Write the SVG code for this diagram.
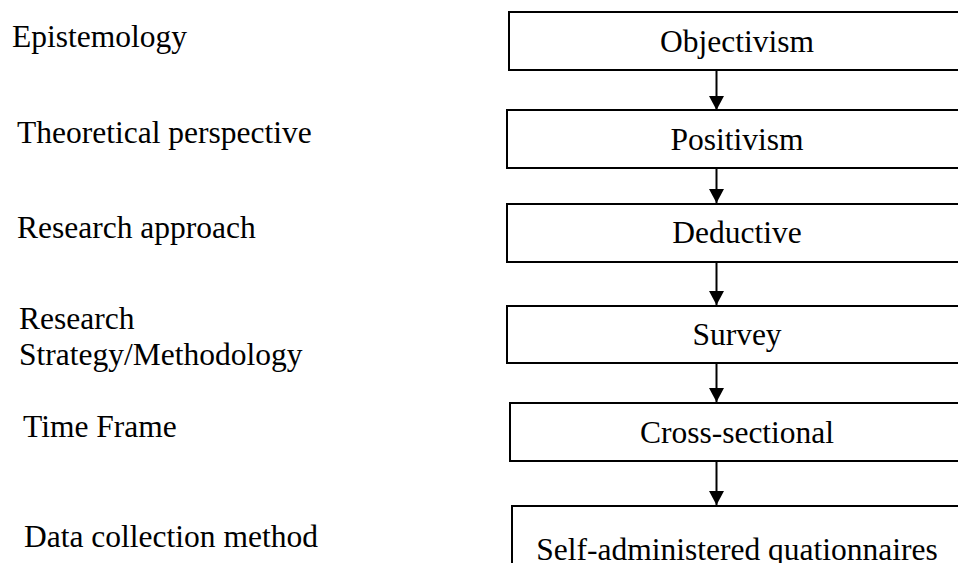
<svg xmlns="http://www.w3.org/2000/svg" width="958" height="563" viewBox="0 0 958 563">
  <style>
    .lbl { font-family: "Liberation Serif", "Times New Roman", serif; font-size: 31.5px; fill: #000; }
    .box rect { fill: #fff; stroke: #000; stroke-width: 2; }
    .box text { text-anchor: middle; }
    .conn line { stroke: #000; stroke-width: 2; }
  </style>
  <defs>
    <marker id="arrow" markerUnits="userSpaceOnUse" markerWidth="15" markerHeight="16" refX="14" refY="7.5" orient="auto">
      <path d="M0,0 L14,7.5 L0,15 Z" fill="#000"/>
    </marker>
  </defs>

  <!-- level labels -->
  <g id="labels">
    <text class="lbl" x="12" y="47">Epistemology</text>
    <text class="lbl" x="17" y="143">Theoretical perspective</text>
    <text class="lbl" x="17" y="238">Research approach</text>
    <text class="lbl" x="19" y="329">Research</text>
    <text class="lbl" x="19" y="365">Strategy/Methodology</text>
    <text class="lbl" x="23" y="437">Time Frame</text>
    <text class="lbl" x="24" y="547">Data collection method</text>
  </g>

  <!-- connectors -->
  <g id="connectors" class="conn">
    <line x1="716.5" y1="70" x2="716.5" y2="110" marker-end="url(#arrow)"/>
    <line x1="716.5" y1="168" x2="716.5" y2="203" marker-end="url(#arrow)"/>
    <line x1="716.5" y1="262" x2="716.5" y2="305" marker-end="url(#arrow)"/>
    <line x1="716.5" y1="363" x2="716.5" y2="402" marker-end="url(#arrow)"/>
    <line x1="716.5" y1="461" x2="716.5" y2="505" marker-end="url(#arrow)"/>
  </g>

  <!-- choice boxes -->
  <g id="objectivism" class="box">
    <rect x="509" y="12" width="460" height="58"/>
    <text class="lbl" x="737" y="52">Objectivism</text>
  </g>
  <g id="positivism" class="box">
    <rect x="507" y="110" width="460" height="58"/>
    <text class="lbl" x="737" y="150">Positivism</text>
  </g>
  <g id="deductive" class="box">
    <rect x="507" y="204" width="460" height="58"/>
    <text class="lbl" x="737" y="243">Deductive</text>
  </g>
  <g id="survey" class="box">
    <rect x="507" y="306" width="460" height="57"/>
    <text class="lbl" x="737" y="345">Survey</text>
  </g>
  <g id="cross-sectional" class="box">
    <rect x="510" y="403" width="460" height="58"/>
    <text class="lbl" x="737" y="443">Cross-sectional</text>
  </g>
  <g id="questionnaires" class="box">
    <rect x="512" y="506" width="460" height="70"/>
    <text class="lbl" x="737" y="560">Self-administered quationnaires</text>
  </g>
</svg>
